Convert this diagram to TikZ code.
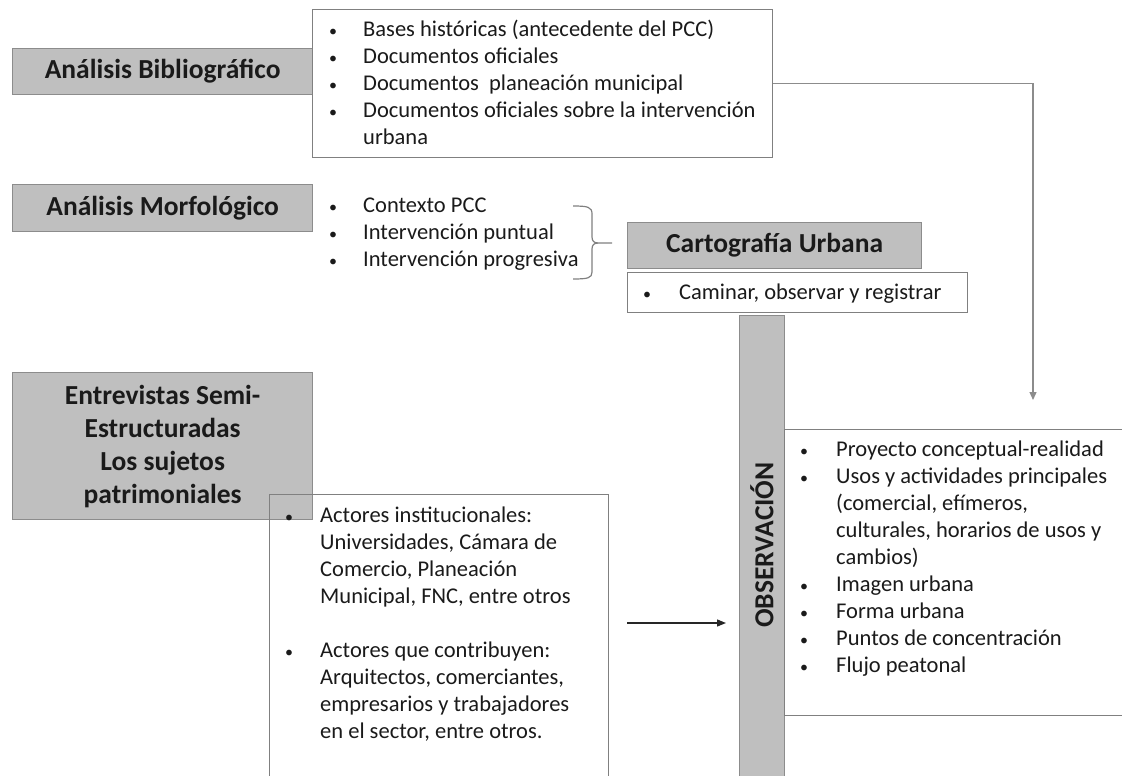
\documentclass[tikz,border=0pt]{standalone}
\usepackage{fontspec}
\setmainfont{Carlito}
\usetikzlibrary{arrows.meta}
\definecolor{fillgray}{HTML}{BFBFBF}
\definecolor{linegray}{HTML}{8C8C8C}
\definecolor{boxgray}{HTML}{808080}
\definecolor{txt}{HTML}{1A1A1A}
\newcommand{\bulsym}{{\fontsize{16}{16}\selectfont\textbullet}}
\newcommand{\bitem}[1]{\bulsym & #1\\}
\newcommand{\bcont}[1]{& #1\\}
\newenvironment{blist}[1]{\begin{tabular}[t]{@{}p{#1}@{}l@{}}}{\end{tabular}}
\begin{document}
\begin{tikzpicture}[x=1pt,y=-1pt,
  gbox/.style={draw=linegray, fill=fillgray, line width=1.3pt, anchor=north west,
    inner sep=0pt, font=\fontsize{27.5}{33}\selectfont\bfseries, align=center, text=txt},
  wbox/.style={draw=boxgray, line width=1.2pt, fill=white, anchor=north west, inner sep=0pt},
  obox/.style={draw=boxgray, line width=1.2pt, anchor=north west, inner sep=0pt},
  ltext/.style={anchor=base west, inner sep=0pt, text=txt,
    font=\fontsize{22.5}{27}\selectfont},
  gconn/.style={draw=linegray, line width=1.3pt, -{Triangle[width=7pt,length=8pt]}},
  bconn/.style={draw=black!85, line width=1.3pt, -{Triangle[width=7pt,length=9pt]}},
  bracestyle/.style={draw=boxgray, line width=1.2pt}]
\useasboundingbox (0,0) rectangle (1122,776);
\clip (0,0) rectangle (1122,776);

% Analisis Bibliografico
\node[gbox, minimum width=300pt, minimum height=46pt] (bib) at (12,48) {Análisis Bibliográfico};
\node[wbox, minimum width=460pt, minimum height=148pt] (bibbox) at (312,9) {};
\node[ltext] (biblist) at (329,37) {\begin{blist}{34pt}
\bitem{Bases históricas (antecedente del PCC)}
\bitem{Documentos oficiales}
\bitem{Documentos\ \ planeación municipal}
\bitem{Documentos oficiales sobre la intervención}
\bcont{urbana}
\end{blist}};

% Analisis Morfologico
\node[gbox, minimum width=300pt, minimum height=47pt] (morf) at (12,184) {Análisis Morfológico};
\node[ltext] (morflist) at (329,212) {\begin{blist}{34pt}
\bitem{Contexto PCC}
\bitem{Intervención puntual}
\bitem{Intervención progresiva}
\end{blist}};
\draw[bracestyle] (573,206) .. controls (588,206) and (592,207) .. (592,214) -- (592,237)
  .. controls (592,241) and (594,243) .. (598,243) -- (612,243);
\draw[bracestyle] (598,243) .. controls (594,243) and (592,245) .. (592,249) -- (592,272)
  .. controls (592,278) and (588,279) .. (573,279);

% Cartografia Urbana
\node[gbox, minimum width=294pt, minimum height=46pt] (carto) at (627,222) {Cartografía Urbana};
\node[wbox, minimum width=340pt, minimum height=40pt] (camin) at (627,272) {};
\node[ltext] (caminlist) at (643,299) {\begin{blist}{36pt}
\bitem{Caminar, observar y registrar}
\end{blist}};

% Observacion bar
\node[gbox, minimum width=45pt, minimum height=480pt] (obsbar) at (739,315) {};
\node[font=\fontsize{27.5}{30}\selectfont\bfseries, text=txt, rotate=90, inner sep=0pt] (obstitle) at (762,545) {OBSERVACIÓN};

% Observacion list
\node[wbox, minimum width=360pt, minimum height=286pt] (obsbox) at (784,429) {};
\node[ltext] (obslist) at (800,456) {\begin{blist}{36pt}
\bitem{Proyecto conceptual-realidad}
\bitem{Usos y actividades principales}
\bcont{(comercial, efímeros,}
\bcont{culturales, horarios de usos y}
\bcont{cambios)}
\bitem{Imagen urbana}
\bitem{Forma urbana}
\bitem{Puntos de concentración}
\bitem{Flujo peatonal}
\end{blist}};

% Entrevistas
\node[gbox, minimum width=300pt, minimum height=147pt] (entrev) at (12,372) {Entrevistas Semi-\\Estructuradas\\Los sujetos\\patrimoniales};
\node[obox, minimum width=339pt, minimum height=320pt] (actbox) at (269,494) {};
\node[ltext] (actlist) at (285,522) {\begin{blist}{35pt}
\bitem{Actores institucionales:}
\bcont{Universidades, Cámara de}
\bcont{Comercio, Planeación}
\bcont{Municipal, FNC, entre otros}
\bcont{}
\bitem{Actores que contribuyen:}
\bcont{Arquitectos, comerciantes,}
\bcont{empresarios y trabajadores}
\bcont{en el sector, entre otros.}
\end{blist}};

% Connectors
\coordinate (gtip) at (1033,400);
\draw[gconn] (bibbox.east) -| (gtip);
\coordinate (bstart) at (627,623);
\coordinate (bend) at (726,623);
\draw[bconn] (bstart) -- (bend);
\end{tikzpicture}
\end{document}
